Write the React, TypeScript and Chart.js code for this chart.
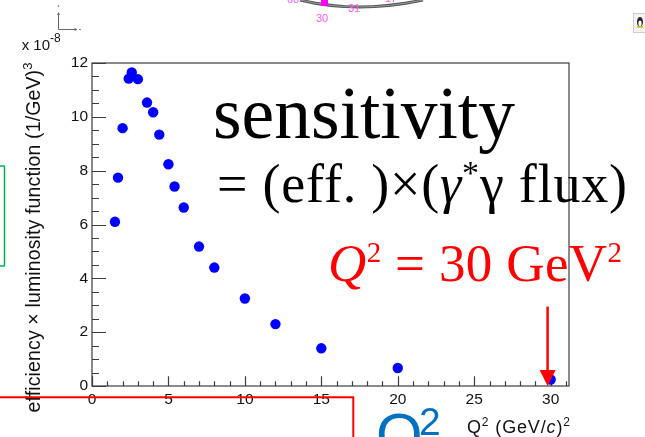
import React, { useEffect, useRef } from "react";
import { Chart, registerables } from "chart.js";

Chart.register(...registerables);

// ---- data ----
const q2Values = [1.5, 1.7, 2.0, 2.4, 2.6, 3.0, 3.6, 4.0, 4.4, 5.0, 5.4, 6.0, 7.0, 8.0, 10.0, 12.0, 15.0, 20.0, 30.0];
const sensitivityValues = [6.1, 7.74, 9.58, 11.42, 11.65, 11.4, 10.53, 10.17, 9.34, 8.24, 7.41, 6.63, 5.18, 4.4, 3.25, 2.3, 1.4, 0.67, 0.24];
const xTickValues = [0, 5, 10, 15, 20, 25, 30];
const yTickValues = [0, 2, 4, 6, 8, 10, 12];
const xRange = [0, 31.2];
const yRange = [0, 12];
const xMinorStep = 1;
const yMinorStep = 0.5;
const arrowQ2 = 29.8;
const arrowFrom = 2.95;
const arrowTo = 0;

const W = 645;
const H = 437;

const framePlugin = {
  id: "rootFrame",
  beforeDatasetsDraw(chart: any) {
    const { ctx, chartArea: a, scales } = chart;
    const xs = scales.x;
    const ys = scales.y;
    ctx.save();
    ctx.strokeStyle = "#3c3c3c";
    ctx.lineWidth = 1.2;
    ctx.strokeRect(a.left, a.top, a.right - a.left, a.bottom - a.top);
    ctx.beginPath();
    const nx = Math.round((xRange[1] - xRange[0]) / xMinorStep);
    for (let k = 0; k <= nx; k++) {
      const v = xRange[0] + k * xMinorStep;
      if (v > xRange[1]) break;
      const px = Math.round(xs.getPixelForValue(v)) + 0.5;
      const len = v % 5 === 0 ? 9.7 : 4.8;
      ctx.moveTo(px, a.bottom);
      ctx.lineTo(px, a.bottom - len);
    }
    const ny = Math.round((yRange[1] - yRange[0]) / yMinorStep);
    for (let k = 0; k <= ny; k++) {
      const v = yRange[0] + k * yMinorStep;
      const py = Math.round(ys.getPixelForValue(v)) + 0.5;
      const len = v % 2 === 0 ? 14 : 7;
      ctx.moveTo(a.left, py);
      ctx.lineTo(a.left + len, py);
    }
    ctx.stroke();
    ctx.restore();
  },
  afterDatasetsDraw(chart: any) {
    const { ctx, scales } = chart;
    const px = scales.x.getPixelForValue(arrowQ2);
    const y1 = scales.y.getPixelForValue(arrowFrom);
    const y2 = scales.y.getPixelForValue(arrowTo);
    ctx.save();
    ctx.strokeStyle = "#ff0000";
    ctx.fillStyle = "#ff0000";
    ctx.lineWidth = 2.5;
    ctx.beginPath();
    ctx.moveTo(px, y1);
    ctx.lineTo(px, y2 - 14);
    ctx.stroke();
    ctx.beginPath();
    ctx.moveTo(px - 8, y2 - 16);
    ctx.lineTo(px + 8, y2 - 16);
    ctx.lineTo(px, y2);
    ctx.closePath();
    ctx.fill();
    ctx.restore();
  },
};

function App() {
  const canvasRef = useRef<HTMLCanvasElement | null>(null);

  useEffect(() => {
    if (!canvasRef.current) return;
    const tickFont = { family: "'Liberation Sans', Arial, sans-serif", size: 15.5 };
    const chart = new Chart(canvasRef.current, {
      type: "scatter",
      data: {
        datasets: [
          {
            data: q2Values.map((q, i) => ({ x: q, y: sensitivityValues[i] })),
            backgroundColor: "#0000ff",
            borderColor: "#0000ff",
            borderWidth: 0,
            pointRadius: 5.2,
            pointHoverRadius: 5.2,
          },
        ],
      },
      options: {
        animation: false,
        responsive: true,
        maintainAspectRatio: false,
        events: [],
        layout: { padding: { left: 0, top: 63, right: 76, bottom: 0 } },
        plugins: { legend: { display: false }, tooltip: { enabled: false } },
        scales: {
          x: {
            type: "linear",
            min: xRange[0],
            max: xRange[1],
            grid: { display: false, drawTicks: false },
            border: { display: false },
            afterBuildTicks: (s: any) => {
              s.ticks = xTickValues.map((v) => ({ value: v }));
            },
            afterFit: (s: any) => {
              s.height = 51;
            },
            ticks: { padding: 4, font: tickFont, color: "#111", maxRotation: 0, autoSkip: false },
          },
          y: {
            type: "linear",
            min: yRange[0],
            max: yRange[1],
            grid: { display: false, drawTicks: false },
            border: { display: false },
            afterBuildTicks: (s: any) => {
              s.ticks = yTickValues.map((v) => ({ value: v }));
            },
            afterFit: (s: any) => {
              s.width = 92;
            },
            ticks: { padding: 4, font: tickFont, color: "#111", autoSkip: false },
          },
        },
      } as any,
      plugins: [framePlugin],
    });
    return () => chart.destroy();
  }, []);

  const serif = "'Liberation Serif', 'Times New Roman', serif";
  const sans = "'Liberation Sans', Arial, sans-serif";

  return (
    <div style={{ position: "fixed", left: 0, top: 0, width: W, height: H, background: "#fff", overflow: "hidden" }}>
      <div style={{ position: "absolute", left: 0, top: 0, width: W, height: H }}>
        <canvas ref={canvasRef} />
      </div>
      <svg width={W} height={H} style={{ position: "absolute", left: 0, top: 0, pointerEvents: "none" }}>
        {/* top clutter from the slide */}
        <path d="M300,0 Q357,14 423,0" stroke="#555" strokeWidth={3} fill="none" />
        <path d="M300,0 Q357,14 423,0" stroke="#aaa" strokeWidth={0.8} fill="none" />
        <rect x={321} y={0} width={7} height={6} fill="#ff00ff" />
        <text x={316} y={22} fontFamily={sans} fontSize={11} fill="#ff55ff">30</text>
        <text x={348} y={12} fontFamily={sans} fontSize={11} fill="#ff55ff">31</text>
        <text x={287} y={3} fontFamily={sans} fontSize={11} fill="#ff55ff">60</text>
        <text x={385} y={2} fontFamily={sans} fontSize={11} fill="#ff55ff">17</text>
        {/* penguin button */}
        <rect x={633.5} y={13.5} width={12} height={19} fill="#f3f3f3" stroke="#ccc" />
        <ellipse cx={640} cy={22} rx={3} ry={5} fill="#222" />
        <ellipse cx={640} cy={23.5} rx={1.6} ry={3} fill="#fff" />
        <ellipse cx={638.3} cy={27} rx={1.6} ry={0.9} fill="#f0b400" />
        <ellipse cx={641.7} cy={27} rx={1.6} ry={0.9} fill="#f0b400" />
        {/* small axes icon */}
        <path d="M58.5,13 V29.5 H76.5" stroke="#666" strokeWidth={1} fill="none" />
        <path d="M57,15 L58.5,12 L60,15 Z M74.5,28 L77.5,29.5 L74.5,31 Z" fill="#666" />
        <circle cx={58.5} cy={6} r={0.8} fill="#666" />
        <circle cx={80} cy={29.5} r={0.8} fill="#666" />
        {/* exponent label */}
        <text x={21.7} y={50} fontFamily={sans} fontSize={15} fill="#111">
          x 10<tspan dy={-8} fontSize={12}>-8</tspan>
        </text>
        {/* y axis title */}
        <text
          transform="translate(39.5,237.5) rotate(-90)"
          textAnchor="middle"
          fontFamily={sans}
          fontSize={19.5}
          fill="#111"
          textLength={350}
          lengthAdjust="spacing"
        >
          efficiency × luminosity function (1/GeV)<tspan dy={-8} fontSize={13}>3</tspan>
        </text>
        {/* x axis title */}
        <text x={467} y={433} fontFamily={sans} fontSize={18} fill="#111" textLength={103} lengthAdjust="spacing">
          Q<tspan dy={-7} fontSize={12}>2</tspan>
          <tspan dy={7}> (GeV/</tspan>
          <tspan fontStyle="italic">c</tspan>
          <tspan>)</tspan>
          <tspan dy={-7} fontSize={12}>2</tspan>
        </text>
        {/* annotations */}
        <text x={213} y={138} fontFamily={serif} fontSize={73} fill="#000" textLength={302} lengthAdjust="spacingAndGlyphs">
          sensitivity
        </text>
        <text x={217} y={202} fontFamily={serif} fontSize={54} fill="#000" textLength={410} lengthAdjust="spacing">
          = (eff. )×(<tspan fontStyle="italic">γ</tspan>
          <tspan dy={-18} fontSize={34}>*</tspan>
          <tspan dy={18}>γ flux)</tspan>
        </text>
        <text x={328} y={281} fontFamily={serif} fontSize={53} fill="#ff0000" textLength={294} lengthAdjust="spacing">
          <tspan fontStyle="italic">Q</tspan>
          <tspan dy={-19} fontSize={29}>2</tspan>
          <tspan dy={19}> = 30 GeV</tspan>
          <tspan dy={-19} fontSize={29}>2</tspan>
        </text>
        {/* slide boxes */}
        <path d="M4.5,166 V266 M0,166 H4.5 M0,266 H4.5" stroke="#00b050" strokeWidth={1.5} fill="none" />
        <path d="M0,397.3 H353.3 V437" stroke="#ff0000" strokeWidth={2} fill="none" />
        <text x={376} y={455} fontFamily={sans} fontSize={60} fill="#0070c0">
          Q
        </text>
        <text x={419} y={435} fontFamily={sans} fontSize={39} fill="#0070c0">
          2
        </text>
      </svg>
    </div>
  );
}

export default App;
